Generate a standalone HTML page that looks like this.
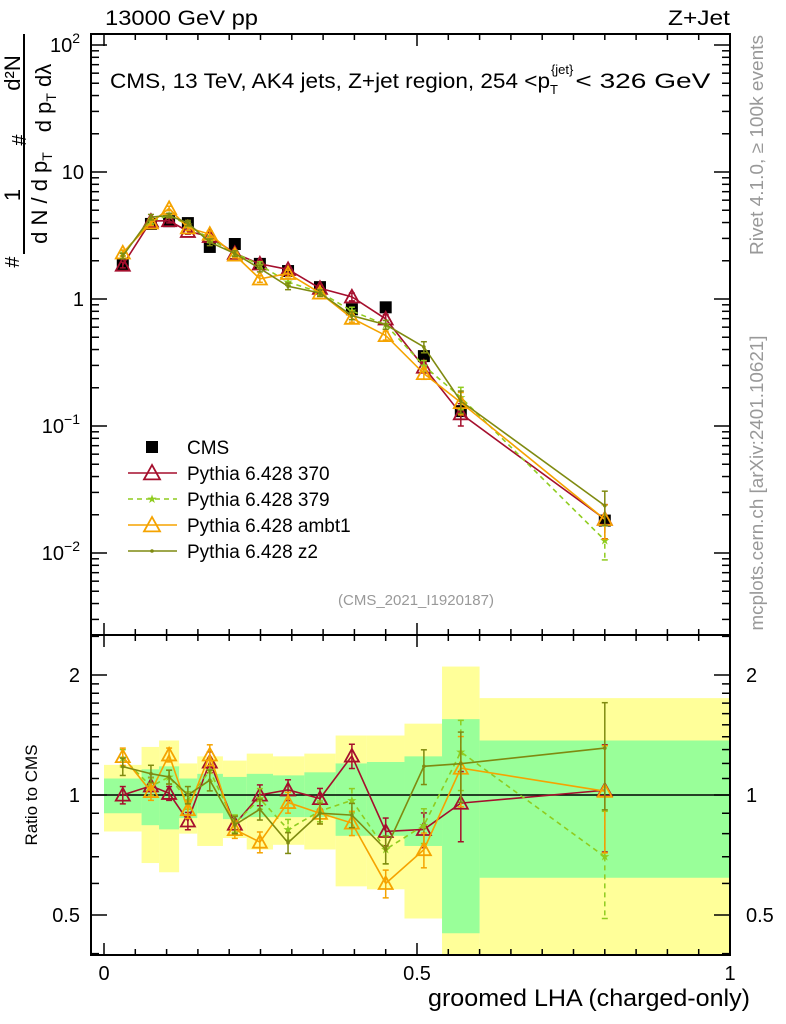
<!DOCTYPE html>
<html><head><meta charset="utf-8"><style>
body{margin:0;background:#fff;}
svg{display:block;font-family:"Liberation Sans",sans-serif;}
</style></head><body>
<svg id="c" width="786" height="1024" viewBox="0 0 786 1024" xmlns="http://www.w3.org/2000/svg"></svg>
<script>
const edges=[0,0.06,0.088,0.12,0.149,0.19,0.228,0.27,0.32,0.37,0.42,0.48,0.54,0.6,1.0];
const xc=[0.03,0.075,0.104,0.134,0.169,0.209,0.249,0.294,0.345,0.396,0.450,0.511,0.570,0.800];
const cms=[1.85,3.9,4.1,3.96,2.57,2.71,1.89,1.66,1.24,0.83,0.86,0.355,0.131,0.018];
const cmsErr=[0.03,0.05,0.04,0.05,0.06,0.05,0.06,0.06,0.06,0.08,0.08,0.1,0.15,0.2];
const bandYUp=[1.19,1.32,1.37,1.20,1.25,1.22,1.27,1.25,1.27,1.41,1.41,1.51,2.1,1.75];
const bandYDn=[0.81,0.675,0.64,0.80,0.745,0.78,0.73,0.75,0.73,0.59,0.58,0.49,0.3,0.3];
const bandGUp=[1.10,1.16,1.18,1.10,1.13,1.11,1.13,1.12,1.14,1.20,1.21,1.25,1.55,1.37];
const bandGDn=[0.90,0.84,0.82,0.875,0.90,0.87,0.88,0.88,0.88,0.79,0.79,0.745,0.45,0.62];
const p370=[1.85,4.11,4.14,3.41,3.11,2.29,1.89,1.71,1.215,1.04,0.697,0.291,0.125,0.0185];
const p379=[2.29,4.10,4.55,3.84,2.96,2.30,1.85,1.36,1.13,0.805,0.628,0.298,0.168,0.0126];
const pamb=[2.31,3.98,5.17,3.64,3.24,2.22,1.44,1.59,1.116,0.706,0.516,0.259,0.153,0.0184];
const pz2=[2.18,4.41,4.55,3.96,2.80,2.28,1.74,1.26,1.116,0.739,0.628,0.419,0.157,0.0236];
const mcErr=[0.05,0.05,0.04,0.05,0.06,0.05,0.06,0.06,0.06,0.07,0.08,0.1,0.2,0.3];
const xTicks=[0,0.5,1];const xTickLabels=["0","0.5","1"];

const NS="http://www.w3.org/2000/svg";const svg=document.getElementById('c');
const L=91,R=730,T=34,MB=635,RB=955;
const X=v=>104+v*626;
const YM=v=>299-127*Math.log10(v);
const YR=v=>795-120*Math.log2(v);
function el(t,a,p){const e=document.createElementNS(NS,t);for(const k in a)e.setAttribute(k,a[k]);(p||svg).appendChild(e);return e;}
function txt(s,a,p){const e=el('text',a,p);e.textContent=s;return e;}
const clipM=el('clipPath',{id:'cm'});el('rect',{x:L,y:T,width:R-L,height:MB-T},clipM);
const clipR=el('clipPath',{id:'cr'});el('rect',{x:L,y:MB,width:R-L,height:RB-MB},clipR);
const gB=el('g',{'clip-path':'url(#cr)'});

for(let i=0;i<xc.length;i++){
 const r=el('rect',{x:X(edges[i]),y:YR(bandYUp[i]),width:X(edges[i+1])-X(edges[i]),height:YR(bandYDn[i])-YR(bandYUp[i]),fill:'#ffff99'},gB);
 
}
for(let i=0;i<xc.length;i++){
 const r=el('rect',{x:X(edges[i]),y:YR(bandGUp[i]),width:X(edges[i+1])-X(edges[i]),height:YR(bandGDn[i])-YR(bandGUp[i]),fill:'#99ff99'},gB);
 
}
el('line',{x1:L,x2:R,y1:YR(1),y2:YR(1),stroke:'#000','stroke-width':1.5});
function frame(y0,y1,name){const r=el('rect',{x:L,y:y0,width:R-L,height:y1-y0,fill:'none',stroke:'#000','stroke-width':2});}
frame(T,MB,'main-frame');frame(MB,RB,'ratio-frame');
for(let v=0;v<=1.0001;v+=0.05){const maj=Math.abs(v*2-Math.round(v*2))<1e-6;const len=maj?12:6;const x=X(v);
 for(const [y,d] of [[T,1],[MB,-1],[MB,1],[RB,-1]])el('line',{x1:x,x2:x,y1:y,y2:y+d*len,stroke:'#000','stroke-width':1.5});}
xTicks.forEach((v,i)=>{const t=txt(xTickLabels[i],{x:X(v),y:980,'font-size':20,'text-anchor':'middle'});});
for(let d=-3;d<=2;d++)for(let m=1;m<10;m++){const v=m*Math.pow(10,d);const y=YM(v);if(y<T||y>MB)continue;const len=m==1?16:8;
 el('line',{x1:L,x2:L+len,y1:y,y2:y,stroke:'#000','stroke-width':1.5});el('line',{x1:R,x2:R-len,y1:y,y2:y,stroke:'#000','stroke-width':1.5});}
const yl=[[100,'10','2'],[10,'10',''],[1,'1',''],[0.1,'10','−1'],[0.01,'10','−2']];
yl.forEach(([v,b,e])=>{const t=el('text',{x:e?80:84,y:YM(v)+7,'font-size':20,'text-anchor':'end'});
 if(v==10){t.textContent='10';}else if(v==1){t.textContent='1';}else{t.textContent=b;const s=el('tspan',{dy:-9,'font-size':14},t);s.textContent=e;}});
const rt=[0.4,0.5,0.6,0.7,0.8,0.9,1,1.1,1.2,1.3,1.4,1.5,1.6,1.7,1.8,1.9,2,2.5];
rt.forEach(v=>{const y=YR(v);if(y<MB||y>RB)return;const maj=(v==0.5||v==1||v==2);const len=maj?16:8;
 el('line',{x1:L,x2:L+len,y1:y,y2:y,stroke:'#000','stroke-width':1.5});el('line',{x1:R,x2:R-len,y1:y,y2:y,stroke:'#000','stroke-width':1.5});});
[[2,'2'],[1,'1'],[0.5,'0.5']].forEach(([v,s])=>{const a=txt(s,{x:80,y:YR(v)+7,'font-size':20,'text-anchor':'end'});
 const b=txt(s,{x:746,y:YR(v)+7,'font-size':20});});
const series=[
 {name:'pythia-370',v:p370,c:'#a50f2d',dash:'',m:'tri',lbl:'Pythia 6.428 370'},
 {name:'pythia-379',v:p379,c:'#8fcc1f',dash:'5,4',m:'star',lbl:'Pythia 6.428 379'},
 {name:'pythia-ambt1',v:pamb,c:'#f5a300',dash:'',m:'tri',lbl:'Pythia 6.428 ambt1'},
 {name:'pythia-z2',v:pz2,c:'#7f8a10',dash:'',m:'dot',lbl:'Pythia 6.428 z2'}];
function marker(type,x,y,c,g,big){
 if(type=='tri'){const s=big?8:7;return el('polygon',{points:`${x},${y-s} ${x-s},${y+s*0.8} ${x+s},${y+s*0.8}`,fill:'#fff','fill-opacity':0,stroke:c,'stroke-width':1.8},g);}
 if(type=='star'){return txt('★',{x:x,y:y+4,'font-size':12,fill:c,'text-anchor':'middle'},g);}
 if(type=='dot'){return el('circle',{cx:x,cy:y,r:1.8,fill:c},g);}
 if(type=='sq'){return el('rect',{x:x-6,y:y-6,width:12,height:12,fill:'#000'},g);}
}
function drawSeries(s,Yf,vals,clip){
 const g=el('g',{'clip-path':clip});
 const pts=vals.map((v,i)=>X(xc[i])+','+Yf(v)).join(' ');
 const pl=el('polyline',{points:pts,fill:'none',stroke:s.c,'stroke-width':1.6,'stroke-dasharray':s.dash},g);
 vals.forEach((v,i)=>{const x=X(xc[i]);const y1=Yf(v*(1+mcErr[i])),y2=Yf(v*(1-mcErr[i]));
  el('line',{x1:x,x2:x,y1:y1,y2:y2,stroke:s.c,'stroke-width':1.5,'stroke-dasharray':s.dash},g);
  el('line',{x1:x-3,x2:x+3,y1:y1,y2:y1,stroke:s.c,'stroke-width':1.5},g);el('line',{x1:x-3,x2:x+3,y1:y2,y2:y2,stroke:s.c,'stroke-width':1.5},g);
  const m=marker(s.m,x,Yf(v),s.c,g);});
}
const gc=el('g',{'clip-path':'url(#cm)'});
cms.forEach((v,i)=>{const x=X(xc[i]);el('line',{x1:x,x2:x,y1:YM(v*(1+cmsErr[i])),y2:YM(v*(1-cmsErr[i])),stroke:'#000','stroke-width':1.5},gc);
 const m=marker('sq',x,YM(v),'#000',gc);});
series.forEach(s=>{drawSeries(s,YM,s.v,'url(#cm)');drawSeries(s,YR,s.v.map((v,i)=>v/cms[i]),'url(#cr)');});
const lg=el('g',{});
const le0=el('g',{},lg);
marker('sq',152,447,'#000',le0);txt('CMS',{x:187,y:454,'font-size':19},le0);
series.forEach((s,i)=>{const y=473+26*i;const g=el('g',{},lg);
 el('line',{x1:128,x2:177,y1:y,y2:y,stroke:s.c,'stroke-width':1.6,'stroke-dasharray':s.dash},g);marker(s.m,152,y,s.c,g,true);
 txt(s.lbl,{x:187,y:y+7,'font-size':19},g);});
</script>
<svg width="786" height="1024" style="position:absolute;left:0;top:0;font-family:'Liberation Sans',sans-serif">
<text x="105" y="25" font-size="21" textLength="153" lengthAdjust="spacingAndGlyphs">13000 GeV pp</text>
<text x="668" y="25" font-size="21" textLength="62" lengthAdjust="spacingAndGlyphs">Z+Jet</text>
<text x="110" y="88" font-size="21"><tspan textLength="440" lengthAdjust="spacingAndGlyphs">CMS, 13 TeV, AK4 jets, Z+jet region, 254 &lt;p</tspan><tspan dy="6" font-size="13">T</tspan><tspan dy="-20" dx="-7" font-size="13">{jet}</tspan><tspan dy="14" dx="2" textLength="135" lengthAdjust="spacingAndGlyphs">&lt; 326 GeV</tspan></text>
<text x="416" y="605" font-size="15" fill="#999" text-anchor="middle">(CMS_2021_I1920187)</text>
<text transform="translate(763,145) rotate(-90)" font-size="18" fill="#999" text-anchor="middle" textLength="220" lengthAdjust="spacingAndGlyphs">Rivet 4.1.0, ≥ 100k events</text>
<text transform="translate(763,483) rotate(-90)" font-size="18" fill="#999" text-anchor="middle" textLength="295" lengthAdjust="spacingAndGlyphs">mcplots.cern.ch [arXiv:2401.10621]</text>
<text transform="translate(37,795) rotate(-90)" font-size="17" text-anchor="middle">Ratio to CMS</text>
<text x="750" y="1006" font-size="24" text-anchor="end" textLength="322" lengthAdjust="spacingAndGlyphs">groomed LHA (charged-only)</text>
<g font-size="22">
<line x1="24" y1="34" x2="24" y2="254" stroke="#000" stroke-width="2"/>
<text transform="translate(19,262) rotate(-90)" text-anchor="middle" font-size="20">#</text>
<text transform="translate(20,195) rotate(-90)" text-anchor="middle">1</text>
<text transform="translate(47,198) rotate(-90)" text-anchor="middle">d N / d p<tspan font-size="14" dy="5">T</tspan></text>
<text transform="translate(20,73) rotate(-90)" text-anchor="middle">d²N</text>
<text transform="translate(26,140) rotate(-90)" text-anchor="middle" font-size="20">#</text>
<text transform="translate(51,98) rotate(-90)" text-anchor="middle">d p<tspan font-size="14" dy="5">T</tspan><tspan dy="-5"> dλ</tspan></text>
</g>
</svg>
</body></html>
